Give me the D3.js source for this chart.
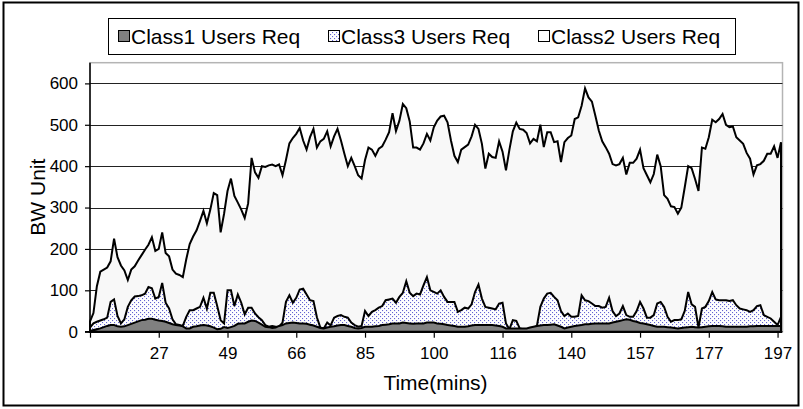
<!DOCTYPE html>
<html>
<head>
<meta charset="utf-8">
<script src="https://cdn.jsdelivr.net/npm/d3@7/dist/d3.min.js"></script>
<style>
  body { margin: 0; background: #fff; }
  svg { display: block; }
  text { font-family: "Liberation Sans", Arial, sans-serif; fill: #000; }
</style>
</head>
<body>
<svg id="chart" width="803" height="409"></svg>
<script>
// Bandwidth requested per user class, one sample per category step
const class1Req = [
  2,4,6,8,11,14,16,16,13,12, 13,16,19,22,25,28,29,31,31,29,
  27,26,24,21,18,16,15,13,8,8, 12,13,15,16,15,13,10,6,7,11,
  9,11,14,19,20,20,24,27,26,22, 17,12,11,9,10,14,16,20,21,22,
  21,20,20,19,17,15,12,9,8,10, 12,13,15,16,16,14,12,9,8,9,
  12,12,12,13,14,16,17,18,20,20, 20,22,21,20,19,20,20,20,22,22,
  22,20,19,18,16,15,14,12,12,12, 13,15,16,16,16,16,16,16,15,14,
  12,8,8,8,8,8,8,8,10,12, 14,15,16,16,17,18,15,12,8,10,
  12,14,15,16,18,18,19,20,20,20, 20,20,22,24,26,28,30,29,26,24,
  21,20,18,16,14,12,12,12,11,10, 9,8,9,10,11,12,11,10,11,12,
  13,14,14,14,13,12,12,12,12,12, 12,12,13,13,14,14,14,14,14,14,
  14,14
];
const class3Req = [
  10,20,24,27,30,34,72,78,38,20, 30,60,76,85,86,88,92,108,105,80,
  84,118,70,56,30,18,16,14,36,52, 52,56,60,82,56,94,94,62,28,20,
  100,100,62,90,70,42,58,58,44,35, 28,16,12,14,12,12,22,72,88,70,
  82,102,104,90,76,74,35,10,8,22, 15,34,38,40,36,34,22,16,12,14,
  50,38,48,52,58,62,76,78,80,70, 84,94,122,94,86,92,90,112,132,100,
  96,92,100,84,72,72,72,48,52,58, 56,66,96,114,80,60,58,56,54,68,
  70,20,6,28,26,8,6,6,8,10, 14,60,80,92,94,84,76,50,38,44,
  36,36,38,88,76,74,68,62,62,58, 60,82,50,38,44,62,40,36,36,50,
  72,56,34,34,40,68,72,60,36,24, 28,28,30,50,96,66,60,10,56,60,
  74,96,78,76,76,76,74,76,64,56, 54,52,48,52,62,64,40,36,32,24,
  16,36
];
const class2Req = [
  25,45,110,145,150,155,170,225,180,160, 148,125,150,158,172,185,198,210,228,195,
  200,240,190,182,150,140,137,132,175,212, 230,245,268,292,262,295,335,330,240,285,
  340,370,328,312,295,275,310,420,385,372, 400,398,402,404,400,404,378,415,455,468,
  478,492,462,440,470,490,445,460,466,484, 448,472,490,462,430,400,420,400,378,370,
  415,445,440,425,442,448,464,482,528,485, 510,550,540,508,445,445,440,455,478,462,
  494,510,520,522,506,462,425,410,440,446, 452,472,500,490,454,394,430,422,420,460,
  435,390,440,484,505,490,488,480,455,466, 460,500,446,482,482,458,460,410,458,468,
  474,514,518,546,588,566,556,522,486,460, 446,430,405,402,405,420,380,408,408,418,
  440,395,378,361,381,428,400,330,321,303, 301,285,300,349,400,395,369,340,445,442,
  470,512,506,514,526,500,494,496,470,462, 454,432,418,380,402,405,413,430,430,448,
  420,458
];

const seriesNames = ["Class1 Users Req", "Class3 Users Req", "Class2 Users Req"];
const timeLabels = ["27", "49", "66", "85", "100", "116", "140", "157", "177", "197"];
const labelEvery = 20;
const yTickValues = [0, 100, 200, 300, 400, 500, 600];
const yMax = 650;

const svg = d3.select("#chart");
const plot = { left: 90, right: 781, top: 62.7, bottom: 331.7 };
const fontFamily = "Liberation Sans, Arial, sans-serif";

// chart frame
svg.append("rect")
  .attr("x", 3.5).attr("y", 2.5).attr("width", 795).attr("height", 403)
  .attr("fill", "#fff").attr("stroke", "#000").attr("stroke-width", 2);

// dotted fill for the Class3 area
const defs = svg.append("defs");
const pat = defs.append("pattern")
  .attr("id", "dots").attr("patternUnits", "userSpaceOnUse")
  .attr("width", 4).attr("height", 4);
pat.append("rect").attr("width", 4).attr("height", 4).attr("fill", "#fff");
pat.append("rect").attr("x", 0).attr("y", 0).attr("width", 1.1).attr("height", 1.1).attr("fill", "#6464d2");
pat.append("rect").attr("x", 2).attr("y", 2).attr("width", 1.1).attr("height", 1.1).attr("fill", "#6464d2");

const n = class2Req.length;
const x = d3.scaleLinear().domain([0, n - 1]).range([plot.left, plot.right]);
const y = d3.scaleLinear().domain([0, yMax]).range([plot.bottom, plot.top]);

// plot area border
svg.append("rect")
  .attr("x", plot.left).attr("y", plot.top)
  .attr("width", plot.right + 1.5 - plot.left).attr("height", plot.bottom - plot.top)
  .attr("fill", "#fff").attr("stroke", "#b4b4b4").attr("stroke-width", 1.5);

// horizontal gridlines
svg.append("g").selectAll("line")
  .data(yTickValues.filter(v => v > 0))
  .join("line")
  .attr("x1", plot.left).attr("x2", plot.right + 1.5)
  .attr("y1", d => Math.round(y(d)) + 0.5).attr("y2", d => Math.round(y(d)) + 0.5)
  .attr("stroke", "#222").attr("stroke-width", 1);

const area = d3.area()
  .x((d, i) => x(i))
  .y0(y(0))
  .y1(d => y(d));

const layers = [
  { data: class2Req, fill: "#f8f8f8" },
  { data: class3Req, fill: "url(#dots)" },
  { data: class1Req, fill: "#808080" }
];
svg.append("g").selectAll("path")
  .data(layers)
  .join("path")
  .attr("d", d => area(d.data) + "Z")
  .attr("fill", d => d.fill)
  .attr("stroke", "#000").attr("stroke-width", 2)
  .attr("stroke-linejoin", "miter");

// y axis
const yAxis = d3.axisLeft(y).tickValues(yTickValues).tickSize(5).tickPadding(7);
const gy = svg.append("g").attr("transform", `translate(${plot.left},0)`).call(yAxis);
gy.select(".domain").attr("stroke", "#000").attr("stroke-width", 1.5)
  .attr("d", `M-5,${plot.bottom}H0V${plot.top}`);
gy.selectAll(".tick line").attr("stroke", "#000").attr("stroke-width", 1.2);
gy.selectAll(".tick text").attr("font-size", 17).attr("font-family", fontFamily);

// x axis
const tickIdx = d3.range(0, n, labelEvery);
const xAxis = d3.axisBottom(x).tickValues(tickIdx).tickSize(6).tickPadding(9)
  .tickFormat(d => d === 0 ? "" : timeLabels[d / labelEvery - 1]);
const gx = svg.append("g").attr("transform", `translate(0,${plot.bottom})`).call(xAxis);
gx.select(".domain").attr("stroke", "#000").attr("stroke-width", 1.5)
  .attr("d", `M${plot.left},0H${plot.right + 1.5}`);
gx.selectAll(".tick line").attr("stroke", "#000").attr("stroke-width", 1.2);
gx.selectAll(".tick text").attr("font-size", 17).attr("font-family", fontFamily);

// axis titles
svg.append("text")
  .attr("x", (plot.left + plot.right) / 2).attr("y", 390)
  .attr("text-anchor", "middle").attr("font-size", 21)
  .text("Time(mins)");
svg.append("text")
  .attr("transform", `translate(45,${(plot.top + plot.bottom) / 2}) rotate(-90)`)
  .attr("text-anchor", "middle").attr("font-size", 21)
  .text("BW Unit");

// legend
const lg = svg.append("g");
lg.append("rect")
  .attr("x", 108.5).attr("y", 18.5).attr("width", 627).attr("height", 36)
  .attr("fill", "#fff").attr("stroke", "#000").attr("stroke-width", 1);
const legendFills = ["#808080", "url(#dots)", "#fff"];
const legendX = [118, 328, 538];
const items = lg.selectAll("g.item")
  .data(seriesNames)
  .join("g").attr("class", "item")
  .attr("transform", (d, i) => `translate(${legendX[i]},0)`);
items.append("rect")
  .attr("x", 0.5).attr("y", 30.5).attr("width", 11).attr("height", 11)
  .attr("fill", (d, i) => legendFills[i]).attr("stroke", "#000").attr("stroke-width", 1);
items.append("text")
  .attr("x", 13).attr("y", 44)
  .attr("font-size", 21)
  .text(d => d);
</script>
</body>
</html>
